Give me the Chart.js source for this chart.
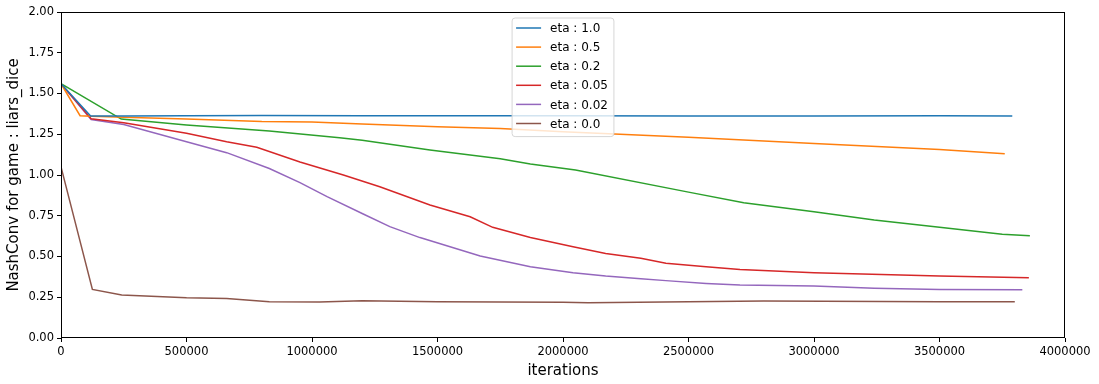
<!DOCTYPE html>
<html>
<head>
<meta charset="utf-8">
<script src="https://cdn.jsdelivr.net/npm/chart.js@4/dist/chart.umd.min.js"></script>
<style>
  body { margin: 0; background: #fff; }
  #wrap { width: 1099px; height: 384px; }
</style>
</head>
<body>
<div id="wrap"><canvas id="nashconv"></canvas></div>
<script>
// series values (iterations, NashConv)
const eta10X = [0, 118000, 250000, 500000, 800000, 1200000, 1600000, 2000000, 2500000, 3000000, 3500000, 3790000];
const eta10Y = [1.56, 1.362, 1.362, 1.363, 1.365, 1.364, 1.363, 1.364, 1.362, 1.362, 1.363, 1.362];

const eta05X = [0, 76000, 120000, 250000, 500000, 800000, 1000000, 1200000, 1500000, 1750000, 2000000, 2500000, 3000000, 3500000, 3760000];
const eta05Y = [1.56, 1.364, 1.36, 1.355, 1.344, 1.328, 1.325, 1.313, 1.296, 1.285, 1.266, 1.232, 1.194, 1.157, 1.13];

const eta02X = [0, 240000, 500000, 830000, 1110000, 1200000, 1470000, 1750000, 1870000, 2050000, 2500000, 2720000, 3000000, 3240000, 3500000, 3750000, 3860000];
const eta02Y = [1.56, 1.343, 1.307, 1.27, 1.229, 1.213, 1.153, 1.10, 1.067, 1.03, 0.895, 0.83, 0.775, 0.724, 0.68, 0.636, 0.628];

const eta005X = [0, 120000, 250000, 500000, 660000, 780000, 952000, 1125000, 1270000, 1470000, 1630000, 1720000, 1870000, 2040000, 2170000, 2310000, 2410000, 2570000, 2705000, 3000000, 3500000, 3856000];
const eta005Y = [1.56, 1.345, 1.32, 1.256, 1.204, 1.17, 1.08, 1.0, 0.928, 0.816, 0.744, 0.679, 0.617, 0.56, 0.519, 0.489, 0.458, 0.437, 0.421, 0.40, 0.38, 0.37];

const eta002X = [0, 120000, 250000, 500000, 660000, 830000, 952000, 1060000, 1204000, 1310000, 1430000, 1670000, 1870000, 2040000, 2170000, 2310000, 2410000, 2570000, 2705000, 3000000, 3240000, 3500000, 3830000];
const eta002Y = [1.56, 1.34, 1.31, 1.204, 1.137, 1.04, 0.953, 0.867, 0.761, 0.683, 0.616, 0.503, 0.437, 0.40, 0.38, 0.364, 0.352, 0.335, 0.325, 0.319, 0.305, 0.298, 0.296];

const eta00X = [0, 125000, 242000, 500000, 660000, 830000, 1030000, 1200000, 1500000, 2000000, 2100000, 2500000, 2800000, 3500000, 3800000];
const eta00Y = [1.05, 0.298, 0.264, 0.247, 0.243, 0.223, 0.221, 0.228, 0.223, 0.219, 0.216, 0.223, 0.227, 0.223, 0.222];

const seriesLabels = ['eta : 1.0', 'eta : 0.5', 'eta : 0.2', 'eta : 0.05', 'eta : 0.02', 'eta : 0.0'];
const seriesX = [eta10X, eta05X, eta02X, eta005X, eta002X, eta00X];
const seriesY = [eta10Y, eta05Y, eta02Y, eta005Y, eta002Y, eta00Y];
const seriesColors = ['#1f77b4', '#ff7f0e', '#2ca02c', '#d62728', '#9467bd', '#8c564b'];

const FONT = 'DejaVu Sans';

// matplotlib-ish frame and "upper center" legend box
const mplExtras = {
    id: 'mplExtras',
    afterDatasetsDraw(chart) {
        const ctx = chart.ctx;
        const area = chart.chartArea;
        ctx.save();
        ctx.font = '12px "' + FONT + '"';
        const labels = chart.data.datasets.map(d => d.label);
        const maxW = Math.max(...labels.map(l => ctx.measureText(l).width));
        const rowH = 19.1;
        const w = 4 + 25 + 9 + maxW + 6;
        const h = rowH * labels.length + 4;
        const x0 = (area.left + area.right) / 2 - w / 2;
        const y0 = area.top + 6;

        ctx.beginPath();
        ctx.roundRect(x0, y0, w, h, 3);
        ctx.fillStyle = 'rgba(255,255,255,0.8)';
        ctx.fill();
        ctx.strokeStyle = '#d6d6d6';
        ctx.lineWidth = 1;
        ctx.stroke();

        chart.data.datasets.forEach((ds, i) => {
            const cy = y0 + 10 + i * rowH;
            ctx.beginPath();
            ctx.moveTo(x0 + 4, cy);
            ctx.lineTo(x0 + 29, cy);
            ctx.strokeStyle = ds.borderColor;
            ctx.lineWidth = 1.5;
            ctx.stroke();
            ctx.fillStyle = '#000';
            ctx.textBaseline = 'middle';
            ctx.fillText(ds.label, x0 + 38, cy + 1);
        });
        ctx.restore();
    },
    afterDraw(chart) {
        const ctx = chart.ctx;
        const a = chart.chartArea;
        ctx.save();
        ctx.strokeStyle = '#000';
        ctx.lineWidth = 1;
        ctx.strokeRect(a.left + 0.5, a.top + 0.5, a.right - a.left - 1, a.bottom - a.top - 1);
        ctx.restore();
    }
};

new Chart(
    document.getElementById('nashconv'),
    {
        type: 'line',
        data: {
            datasets: seriesLabels.map((label, i) => ({
                label: label,
                data: seriesX[i].map((x, j) => ({ x: x, y: seriesY[i][j] })),
                borderColor: seriesColors[i],
                backgroundColor: seriesColors[i],
                borderWidth: 1.5,
                pointRadius: 0,
                tension: 0,
                fill: false
            }))
        },
        options: {
            responsive: true,
            maintainAspectRatio: false,
            animation: false,
            layout: {
                padding: { top: 12, right: 34, left: 0, bottom: 0 }
            },
            plugins: {
                legend: { display: false },
                tooltip: { enabled: false }
            },
            scales: {
                x: {
                    type: 'linear',
                    min: 0,
                    max: 4000000,
                    afterFit: s => { s.height = 46; },
                    grid: {
                        drawOnChartArea: false,
                        drawTicks: true,
                        tickLength: 4,
                        color: '#000'
                    },
                    border: { display: false },
                    ticks: {
                        stepSize: 500000,
                        maxRotation: 0,
                        padding: 3,
                        color: '#000',
                        font: { family: FONT, size: 11.5 },
                        callback: v => String(v)
                    },
                    title: {
                        display: true,
                        text: 'iterations',
                        color: '#000',
                        padding: { top: 0, bottom: 4 },
                        font: { family: FONT, size: 15 }
                    }
                },
                y: {
                    min: 0,
                    max: 2,
                    afterFit: s => { s.width = 61; },
                    grid: {
                        drawOnChartArea: false,
                        drawTicks: true,
                        tickLength: 4,
                        color: '#000'
                    },
                    border: { display: false },
                    ticks: {
                        stepSize: 0.25,
                        padding: 3,
                        color: '#000',
                        font: { family: FONT, size: 11.5 },
                        callback: v => v.toFixed(2)
                    },
                    title: {
                        display: true,
                        text: 'NashConv for game : liars_dice',
                        color: '#000',
                        padding: { top: 5, bottom: 0 },
                        font: { family: FONT, size: 15 }
                    }
                }
            }
        },
        plugins: [mplExtras]
    }
);
</script>
</body>
</html>
